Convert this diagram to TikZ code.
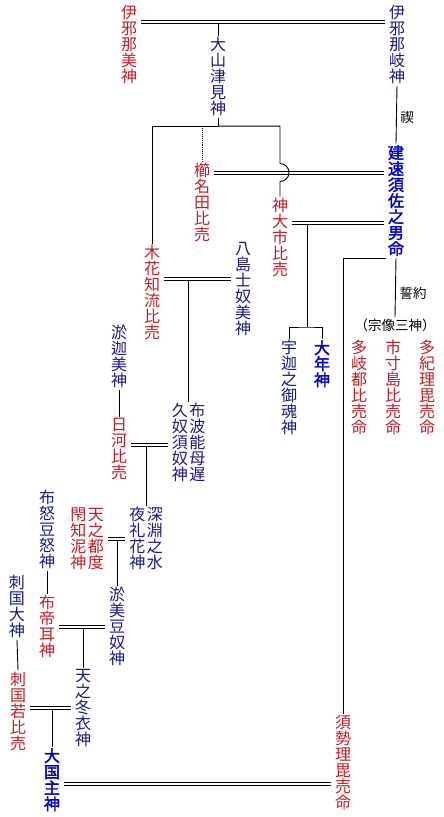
\documentclass[tikz,border=0pt]{standalone}
\usepackage{fontspec}
\newfontfamily\cjk[AutoFakeBold=2]{Noto Sans CJK JP}
\usetikzlibrary{calc}

\definecolor{himeRed}{RGB}{196,28,36}
\definecolor{kamiBlue}{RGB}{24,24,136}
\definecolor{ouBlue}{RGB}{0,0,204}

% one name, written top to bottom
\newcommand{\tate}[1]{\begin{minipage}[t]{16pt}\centering #1\end{minipage}}

\tikzset{
  kami/.style={inner sep=1.5pt, anchor=north, font=\cjk\fontsize{16}{16}\selectfont},
  hime/.style={kami, text=himeRed},
  hiko/.style={kami, text=kamiBlue},
  shu/.style={kami, text=ouBlue, font=\cjk\bfseries\fontsize{16}{16}\selectfont},
  note/.style={inner sep=1pt, font=\cjk\fontsize{13.5}{14}\selectfont},
  kon/.style={shorten <=2pt, shorten >=2pt},
}

\begin{document}
\begin{tikzpicture}[x=1pt, y=-1pt, line width=0.9pt]
\useasboundingbox (0,0) rectangle (444,817);

% Izanagi, Izanami and Susanoo
\node[hime] (izanami) at (129,3.5) {\tate{伊\\邪\\那\\美\\神}};
\node[hiko] (izanagi) at (397,3.5) {\tate{伊\\邪\\那\\岐\\神}};
\node[hiko] (ooyama) at (218,35.5) {\tate{大\\山\\津\\見\\神}};
\node[shu] (susanoo) at (396,143.5) {\tate{建\\速\\須\\佐\\之\\男\\命}};
\node[note] (misogi) at (407,117) {禊};

% wives of Susanoo
\node[hime] (kushinada) at (202,161.5) {\tate{櫛\\名\\田\\比\\売}};
\node[hime] (kamuooichi) at (280,196.5) {\tate{神\\大\\市\\比\\売}};
\node[hime] (konohana) at (152,243.5) {\tate{木\\花\\知\\流\\比\\売}};
\node[hiko] (yashima) at (243,240.5) {\tate{八\\島\\士\\奴\\美\\神}};

% children of Kamuooichi
\node[hiko] (uka) at (289,338.5) {\tate{宇\\迦\\之\\御\\魂\\神}};
\node[shu] (otoshi) at (322,338.5) {\tate{大\\年\\神}};

% Munakata
\node[note] (ukei) at (413,293) {誓約};
\node[note] (munakata) at (395,325) {（宗像三神）};
\node[hime] (tagitsu) at (359,338.5) {\tate{多\\岐\\都\\比\\売\\命}};
\node[hime] (ichikishima) at (393,338.5) {\tate{市\\寸\\島\\比\\売\\命}};
\node[hime] (tagiri) at (427,338.5) {\tate{多\\紀\\理\\毘\\売\\命}};

% down to Ookuninushi
\node[hiko] (okami) at (119,323.5) {\tate{淤\\迦\\美\\神}};
\node[hime] (hikawa) at (119,416.5) {\tate{日\\河\\比\\売}};
\node[hiko] (fuha) at (188.5,401.5) {\tate{久\\奴\\須\\奴\\神}\hspace{1.5pt}\tate{布\\波\\能\\母\\遅}};
\node[hiko] (fukabuchi) at (146,505.5) {\tate{夜\\礼\\花\\神}\hspace{1.5pt}\tate{深\\淵\\之\\水}};
\node[hime] (tsudo) at (87,505.5) {\tate{閇\\知\\泥\\神}\hspace{1.5pt}\tate{天\\之\\都\\度}};
\node[hiko] (funozuno) at (47,488.5) {\tate{布\\怒\\豆\\怒\\神}};
\node[hime] (futemimi) at (47,593.5) {\tate{布\\帝\\耳\\神}};
\node[hiko] (omizunu) at (117,585.5) {\tate{淤\\美\\豆\\奴\\神}};
\node[hiko] (sashikunio) at (17,573.5) {\tate{刺\\国\\大\\神}};
\node[hime] (sashikuniwaka) at (18,670.5) {\tate{刺\\国\\若\\比\\売}};
\node[hiko] (fuyukinu) at (83,667.5) {\tate{天\\之\\冬\\衣\\神}};
\node[shu] (ookuni) at (52,746.5) {\tate{大\\国\\主\\神}};
\node[hime] (suseri) at (343,713.5) {\tate{須\\勢\\理\\毘\\売\\命}};

% marriage lines (lower line of each pair)
\coordinate (k1) at ([yshift=-19.5pt]izanami.north east);
\coordinate (k2) at ([yshift=-12.5pt]kushinada.north east);
\coordinate (k3) at ([yshift=-27.5pt]kamuooichi.north east);
\coordinate (k4) at ([yshift=-36.5pt]konohana.north east);
\coordinate (k5) at ([yshift=-29.5pt]hikawa.north east);
\coordinate (k6) at ([yshift=-34.5pt]tsudo.north east);
\coordinate (k7) at ([yshift=-34.5pt]futemimi.north east);
\coordinate (k8) at ([yshift=-38.5pt]sashikuniwaka.north east);
\coordinate (k9) at ([yshift=-38.5pt]ookuni.north east);
\coordinate (j3) at (307,327);

% single lines
\draw (izanagi.south) -- (susanoo.north);
\draw (susanoo.south) -- (munakata.north);
\draw (suseri.north) |- (susanoo.south west);
\draw (okami.south) -- (hikawa.north);
\draw (funozuno.south) -- (futemimi.north);
\draw (sashikunio.south) -- (sashikuniwaka.north);

% children
\draw (ooyama.north) -- (ooyama.north |- k1);
\draw (ooyama.south) -- ++(0,8) coordinate (b1);
\draw (konohana.north) |- (b1);
\draw[densely dotted] (kushinada.north) -- (kushinada.north |- b1);
\draw (b1) -| ($(k2 -| kamuooichi.north)+(0,-10.5)$) arc[start angle=90, end angle=-90, radius=9pt] -- (kamuooichi.north);
\draw (j3 |- k3) -- (j3);
\draw (uka.north) |- (j3) -| (otoshi.north);
\draw (fuha.north) -- (fuha.north |- k4);
\draw (fukabuchi.north) -- (fukabuchi.north |- k5);
\draw (omizunu.north) -- (omizunu.north |- k6);
\draw (fuyukinu.north) -- (fuyukinu.north |- k7);
\draw (ookuni.north) -- (ookuni.north |- k8);

% double lines
\foreach \a/\b in {k1/izanagi, k2/susanoo, k3/susanoo, k4/yashima, k5/fuha,
                   k6/fukabuchi, k7/omizunu, k8/fuyukinu, k9/suseri} {
  \draw[kon] (\a) -- (\a -| \b.west);
  \draw[kon] ($(\a)+(0,-3)$) -- ($(\a -| \b.west)+(0,-3)$);
}
\end{tikzpicture}
\end{document}
